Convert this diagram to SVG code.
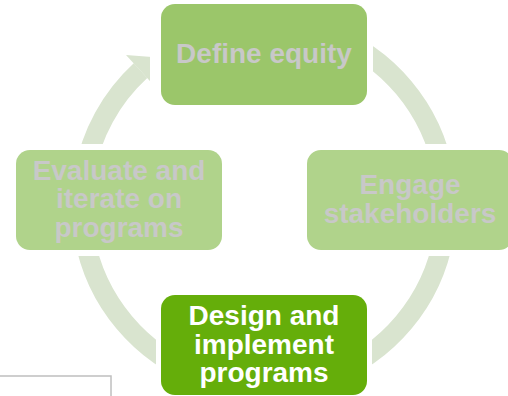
<svg xmlns="http://www.w3.org/2000/svg" width="508" height="396" viewBox="0 0 508 396">
<defs>
<style>
.ring{fill:none;stroke:#d9e4cf;stroke-width:20;stroke-linecap:butt}
.head{fill:#d9e4cf}
.t{font-family:"Liberation Sans",Arial,sans-serif;font-weight:bold;font-size:28px;text-anchor:middle}
.dim{fill:#c8c8c8}
.lit{fill:#ffffff}
</style>
<clipPath id="gaps">
<path clip-rule="evenodd" d="M0 0H508V396H0Z M150 0H373V112H150Z M0 144H230V256H0Z M300 144H508V256H300Z M156 290H372V396H156Z"/>
</clipPath>
</defs>
<rect x="0" y="0" width="508" height="396" fill="#ffffff"/>
<g id="connectors" clip-path="url(#gaps)">
<path class="ring" d="M84.3 173.3 A182.5 182.5 0 0 1 140.5 70.7"/>
<polygon class="head" points="126,55 155.2,57.2 154.7,86.2"/>
<path class="ring" d="M326.4 33.5 A182.5 182.5 0 0 1 443.7 173.3"/>
<path class="ring" d="M443.7 236.7 A182.5 182.5 0 0 1 326.4 376.5"/>
<path class="ring" d="M201.6 376.5 A182.5 182.5 0 0 1 84.3 236.7"/>
</g>
<g id="define-equity">
<rect x="161" y="4" width="206" height="101" rx="14" fill="#9bc66a"/>
<text class="t dim" x="264" y="62.5">Define equity</text>
</g>
<g id="engage-stakeholders">
<rect x="307" y="150" width="206" height="100" rx="14" fill="#b0d38b"/>
<text class="t dim" x="410" y="194">Engage</text>
<text class="t dim" x="410" y="222.7">stakeholders</text>
</g>
<g id="design-implement">
<rect x="161" y="295" width="206" height="100" rx="14" fill="#65ae0a"/>
<text class="t lit" x="264" y="325">Design and</text>
<text class="t lit" x="264" y="354">implement</text>
<text class="t lit" x="264" y="382">programs</text>
</g>
<g id="evaluate-iterate">
<rect x="16" y="150" width="206" height="100" rx="14" fill="#b0d38b"/>
<text class="t dim" x="119" y="179.5">Evaluate and</text>
<text class="t dim" x="119" y="208">iterate on</text>
<text class="t dim" x="119" y="236.7">programs</text>
</g>
<g id="corner-box">
<rect x="-2" y="376" width="113" height="30" fill="none" stroke="#bfbfbf" stroke-width="1.5"/>
</g>
</svg>
